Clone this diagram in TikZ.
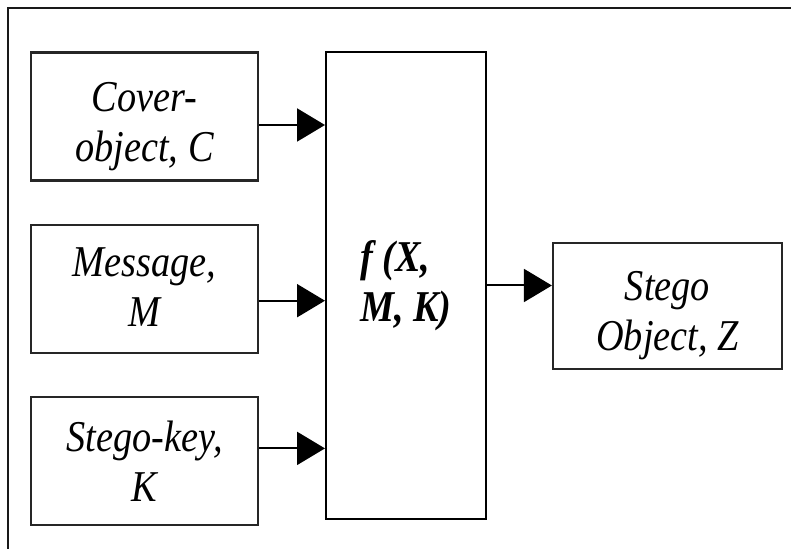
\documentclass[tikz,border=0pt]{standalone}
\usepackage{fontspec}
\setmainfont{Liberation Serif}[FakeStretch=0.87]
\usetikzlibrary{positioning, arrows.meta}

\tikzset{
  inbox/.style = {draw=black!85, line width=1.1pt, minimum width=113.5pt,
    minimum height=64pt, inner sep=0pt},
  txt/.style = {align=center, inner sep=0pt,
    font=\fontsize{22}{25}\selectfont\itshape},
  fbox/.style = {draw, line width=1pt, minimum height=233.5pt, minimum width=80pt,
    inner sep=0pt, align=left,
    font=\fontsize{22}{25}\selectfont\bfseries\itshape},
  flow/.style = {line width=1pt, -{Triangle[length=14pt, width=16.5pt]}}
}

\begin{document}
\begin{tikzpicture}
 \useasboundingbox (0,0) rectangle (395.5pt,-274.5pt);
 % frame
 \draw[line width=0.8pt, black!90] (4pt,-280pt) -- (4pt,-4pt) -- (400pt,-4pt);

 % inputs
 \node[inbox] (cover) at (72.25pt,-58.25pt) {};
 \node[inbox, below=21pt of cover] (msg) {};
 \node[inbox, below=21pt of msg] (key) {};
 \node[txt, yshift=-5pt] (covertxt) at (cover) {Cover-\\object, C};
 \node[txt, yshift=1pt] (msgtxt) at (msg) {Message,\\M};
 \node[txt] (keytxt) at (key) {Stego-key,\\K};

 % embedding function
 \node[fbox] (emb) at (203pt,-142.75pt) {f (X,\\M, K)};

 % output
 \node[inbox, minimum width=114.5pt, minimum height=63pt] (stego) at (333.75pt,-153pt) {};
 \node[txt, yshift=-5pt] (stegotxt) at (stego) {Stego\\Object, Z};

 % arrows
 \coordinate (cin) at ([yshift=-4.25pt]cover.east);
 \coordinate (min) at ([yshift=-6pt]msg.east);
 \coordinate (kin) at ([yshift=6.25pt]key.east);
 \draw[flow] (cin) -- (cin -| emb.west);
 \draw[flow] (min) -- (min -| emb.west);
 \draw[flow] (kin) -- (kin -| emb.west);
 \draw[flow] (emb.east) -- (emb.east -| stego.west);
\end{tikzpicture}
\end{document}
